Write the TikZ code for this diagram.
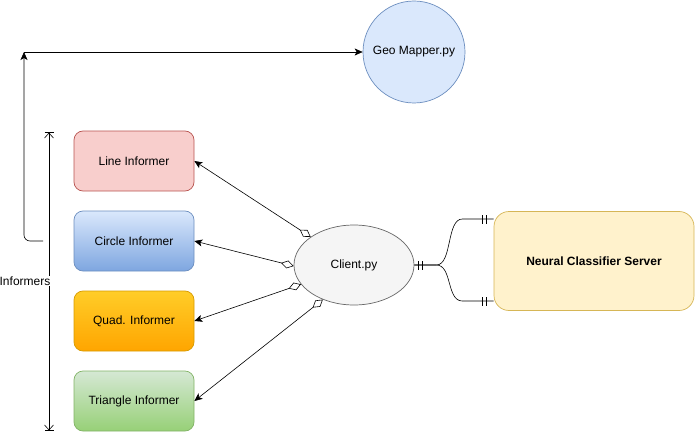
\documentclass[tikz,border=0pt]{standalone}
\usepackage{fontspec}
\setmainfont{Liberation Sans}
\usetikzlibrary{arrows.meta,shapes.geometric,decorations.markings}
\definecolor{geobg}{HTML}{DAE8FC}
\definecolor{geodraw}{HTML}{6C8EBF}
\definecolor{lineredbg}{HTML}{F8CECC}
\definecolor{lineredraw}{HTML}{B85450}
\definecolor{circletop}{HTML}{DAE8FC}
\definecolor{circlebot}{HTML}{7EA6E0}
\definecolor{quadtop}{HTML}{FFCD28}
\definecolor{quadbot}{HTML}{FFA500}
\definecolor{quaddraw}{HTML}{D79B00}
\definecolor{tritop}{HTML}{D5E8D4}
\definecolor{tribot}{HTML}{97D077}
\definecolor{tridraw}{HTML}{82B366}
\definecolor{clientbg}{HTML}{F5F5F5}
\definecolor{clientdraw}{HTML}{666666}
\definecolor{serverbg}{HTML}{FFF2CC}
\definecolor{serverdraw}{HTML}{D6B656}

\begin{document}
\begin{tikzpicture}[x=1pt,y=-1pt,font=\fontsize{12}{14}\selectfont,
    informer/.style={draw,rounded corners=9pt,minimum width=120pt,minimum height=60pt,align=center,line width=.7pt},
    link/.style={{Diamond[open,length=13pt,width=8pt]}-{Stealth[length=8pt,width=7pt,inset=2pt]},line width=.6pt},
    flow/.style={-{Stealth[length=8pt,width=7pt,inset=2pt]},line width=.6pt},
    erlink/.style={line width=.6pt,postaction={decorate,decoration={markings,
        mark=at position 4pt with {\draw[line width=.6pt] (0,-4.5pt)--(0,4.5pt);},
        mark=at position 8pt with {\draw[line width=.6pt] (0,-4.5pt)--(0,4.5pt);},
        mark=at position -11pt with {\draw[line width=.6pt] (0,-4.5pt)--(0,4.5pt);},
        mark=at position -7pt with {\draw[line width=.6pt] (0,-4.5pt)--(0,4.5pt);}}}}]
    \useasboundingbox (0,0) rectangle (695,433);
    \node[circle,draw=geodraw,fill=geobg,minimum size=102pt,line width=.7pt] (geo) at (414,52) {Geo Mapper.py};
    \node[informer,fill=lineredbg,draw=lineredraw] (line) at (134,161) {Line Informer};
    \node[informer,top color=circletop,bottom color=circlebot,draw=geodraw] (circ) at (134,241) {Circle Informer};
    \node[informer,top color=quadtop,bottom color=quadbot,draw=quaddraw] (quad) at (134,321) {Quad. Informer};
    \node[informer,top color=tritop,bottom color=tribot,draw=tridraw] (tri) at (134,401) {Triangle Informer};
    \node[ellipse,draw=clientdraw,fill=clientbg,minimum width=120pt,minimum height=80pt,inner sep=0pt,line width=.7pt] (client) at (354,265) {Client.py};
    \node[draw=serverdraw,fill=serverbg,rounded corners=15pt,minimum width=200pt,minimum height=99pt,font=\fontsize{12}{14}\selectfont\bfseries,line width=.7pt] (server) at (594,261) {Neural Classifier Server};
    % client to informers
    \foreach \a/\b in {147/line,181/circ,200/quad,228/tri}{\draw[link] (client.\a) -- (\b.east);}
    % client to server
    \draw[erlink] (client.east) -- ++(22,0) .. controls +(16,0) and +(-16,0) .. ++(26,-46) -- ([yshift=42pt]server.west);
    \draw[erlink] (client.east) -- ++(22,0) .. controls +(16,0) and +(-16,0) .. ++(26,36) -- ([yshift=-40pt]server.west);
    % informers group
    \coordinate (top) at (49,132);
    \coordinate (bot) at (49,431);
    \draw[line width=.6pt,{Bar[width=9pt]Straight Barb[length=5pt,width=9pt]}-{Straight Barb[length=5pt,width=9pt]Bar[width=9pt]}] (top) -- (bot);
    \node[fill=white,inner sep=1pt] (grplabel) at (25,281) {Informers};
    \coordinate (grp) at (43,241);
    \coordinate (bend) at (24,52);
    \draw[flow,rounded corners=6pt] (grp) -| (bend);
    \draw[flow] (bend) -- (geo);
\end{tikzpicture}
\end{document}
